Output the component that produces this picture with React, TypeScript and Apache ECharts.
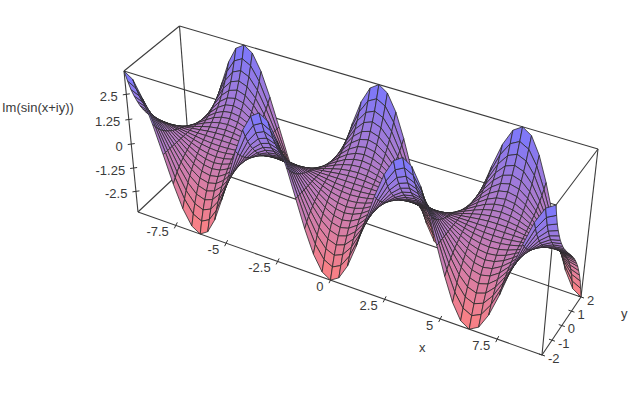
import React, { useEffect, useRef } from "react";
import * as echarts from "echarts";

const xValues = [-9.42,-9.03,-8.64,-8.25,-7.85,-7.46,-7.07,-6.68,-6.28,-5.89,-5.5,-5.11,-4.71,-4.32,-3.93,-3.53,-3.14,-2.75,-2.36,-1.96,-1.57,-1.18,-0.79,-0.39,0,0.39,0.79,1.18,1.57,1.96,2.36,2.75,3.14,3.53,3.93,4.32,4.71,5.11,5.5,5.89,6.28,6.68,7.07,7.46,7.85,8.25,8.64,9.03,9.42];
const yValues = [-2,-1.83,-1.67,-1.5,-1.33,-1.17,-1,-0.83,-0.67,-0.5,-0.33,-0.17,0,0.17,0.33,0.5,0.67,0.83,1,1.17,1.33,1.5,1.67,1.83,2];
const zRows = [
[3.63,3.35,2.56,1.39,0,-1.39,-2.56,-3.35,-3.63,-3.35,-2.56,-1.39,0,1.39,2.56,3.35,3.63,3.35,2.56,1.39,0,-1.39,-2.56,-3.35,-3.63,-3.35,-2.56,-1.39,0,1.39,2.56,3.35,3.63,3.35,2.56,1.39,0,-1.39,-2.56,-3.35,-3.63,-3.35,-2.56,-1.39,0,1.39,2.56,3.35,3.63],
[3.05,2.82,2.16,1.17,0,-1.17,-2.16,-2.82,-3.05,-2.82,-2.16,-1.17,0,1.17,2.16,2.82,3.05,2.82,2.16,1.17,0,-1.17,-2.16,-2.82,-3.05,-2.82,-2.16,-1.17,0,1.17,2.16,2.82,3.05,2.82,2.16,1.17,0,-1.17,-2.16,-2.82,-3.05,-2.82,-2.16,-1.17,0,1.17,2.16,2.82,3.05],
[2.55,2.36,1.81,0.98,0,-0.98,-1.81,-2.36,-2.55,-2.36,-1.81,-0.98,0,0.98,1.81,2.36,2.55,2.36,1.81,0.98,0,-0.98,-1.81,-2.36,-2.55,-2.36,-1.81,-0.98,0,0.98,1.81,2.36,2.55,2.36,1.81,0.98,0,-0.98,-1.81,-2.36,-2.55,-2.36,-1.81,-0.98,0,0.98,1.81,2.36,2.55],
[2.13,1.97,1.51,0.82,0,-0.82,-1.51,-1.97,-2.13,-1.97,-1.51,-0.82,0,0.82,1.51,1.97,2.13,1.97,1.51,0.82,0,-0.82,-1.51,-1.97,-2.13,-1.97,-1.51,-0.82,0,0.82,1.51,1.97,2.13,1.97,1.51,0.82,0,-0.82,-1.51,-1.97,-2.13,-1.97,-1.51,-0.82,0,0.82,1.51,1.97,2.13],
[1.77,1.63,1.25,0.68,0,-0.68,-1.25,-1.63,-1.77,-1.63,-1.25,-0.68,0,0.68,1.25,1.63,1.77,1.63,1.25,0.68,0,-0.68,-1.25,-1.63,-1.77,-1.63,-1.25,-0.68,0,0.68,1.25,1.63,1.77,1.63,1.25,0.68,0,-0.68,-1.25,-1.63,-1.77,-1.63,-1.25,-0.68,0,0.68,1.25,1.63,1.77],
[1.45,1.34,1.03,0.56,0,-0.56,-1.03,-1.34,-1.45,-1.34,-1.03,-0.56,0,0.56,1.03,1.34,1.45,1.34,1.03,0.56,0,-0.56,-1.03,-1.34,-1.45,-1.34,-1.03,-0.56,0,0.56,1.03,1.34,1.45,1.34,1.03,0.56,0,-0.56,-1.03,-1.34,-1.45,-1.34,-1.03,-0.56,0,0.56,1.03,1.34,1.45],
[1.18,1.09,0.83,0.45,0,-0.45,-0.83,-1.09,-1.18,-1.09,-0.83,-0.45,0,0.45,0.83,1.09,1.18,1.09,0.83,0.45,0,-0.45,-0.83,-1.09,-1.18,-1.09,-0.83,-0.45,0,0.45,0.83,1.09,1.18,1.09,0.83,0.45,0,-0.45,-0.83,-1.09,-1.18,-1.09,-0.83,-0.45,0,0.45,0.83,1.09,1.18],
[0.93,0.86,0.66,0.36,0,-0.36,-0.66,-0.86,-0.93,-0.86,-0.66,-0.36,0,0.36,0.66,0.86,0.93,0.86,0.66,0.36,0,-0.36,-0.66,-0.86,-0.93,-0.86,-0.66,-0.36,0,0.36,0.66,0.86,0.93,0.86,0.66,0.36,0,-0.36,-0.66,-0.86,-0.93,-0.86,-0.66,-0.36,0,0.36,0.66,0.86,0.93],
[0.72,0.66,0.51,0.27,0,-0.27,-0.51,-0.66,-0.72,-0.66,-0.51,-0.27,0,0.27,0.51,0.66,0.72,0.66,0.51,0.27,0,-0.27,-0.51,-0.66,-0.72,-0.66,-0.51,-0.27,0,0.27,0.51,0.66,0.72,0.66,0.51,0.27,0,-0.27,-0.51,-0.66,-0.72,-0.66,-0.51,-0.27,0,0.27,0.51,0.66,0.72],
[0.52,0.48,0.37,0.2,0,-0.2,-0.37,-0.48,-0.52,-0.48,-0.37,-0.2,0,0.2,0.37,0.48,0.52,0.48,0.37,0.2,0,-0.2,-0.37,-0.48,-0.52,-0.48,-0.37,-0.2,0,0.2,0.37,0.48,0.52,0.48,0.37,0.2,0,-0.2,-0.37,-0.48,-0.52,-0.48,-0.37,-0.2,0,0.2,0.37,0.48,0.52],
[0.34,0.31,0.24,0.13,0,-0.13,-0.24,-0.31,-0.34,-0.31,-0.24,-0.13,0,0.13,0.24,0.31,0.34,0.31,0.24,0.13,0,-0.13,-0.24,-0.31,-0.34,-0.31,-0.24,-0.13,0,0.13,0.24,0.31,0.34,0.31,0.24,0.13,0,-0.13,-0.24,-0.31,-0.34,-0.31,-0.24,-0.13,0,0.13,0.24,0.31,0.34],
[0.17,0.16,0.12,0.06,0,-0.06,-0.12,-0.16,-0.17,-0.16,-0.12,-0.06,0,0.06,0.12,0.16,0.17,0.16,0.12,0.06,0,-0.06,-0.12,-0.16,-0.17,-0.16,-0.12,-0.06,0,0.06,0.12,0.16,0.17,0.16,0.12,0.06,0,-0.06,-0.12,-0.16,-0.17,-0.16,-0.12,-0.06,0,0.06,0.12,0.16,0.17],
[0,0,0,0,0,0,0,0,0,0,0,0,0,0,0,0,0,0,0,0,0,0,0,0,0,0,0,0,0,0,0,0,0,0,0,0,0,0,0,0,0,0,0,0,0,0,0,0,0],
[-0.17,-0.16,-0.12,-0.06,0,0.06,0.12,0.16,0.17,0.16,0.12,0.06,0,-0.06,-0.12,-0.16,-0.17,-0.16,-0.12,-0.06,0,0.06,0.12,0.16,0.17,0.16,0.12,0.06,0,-0.06,-0.12,-0.16,-0.17,-0.16,-0.12,-0.06,0,0.06,0.12,0.16,0.17,0.16,0.12,0.06,0,-0.06,-0.12,-0.16,-0.17],
[-0.34,-0.31,-0.24,-0.13,0,0.13,0.24,0.31,0.34,0.31,0.24,0.13,0,-0.13,-0.24,-0.31,-0.34,-0.31,-0.24,-0.13,0,0.13,0.24,0.31,0.34,0.31,0.24,0.13,0,-0.13,-0.24,-0.31,-0.34,-0.31,-0.24,-0.13,0,0.13,0.24,0.31,0.34,0.31,0.24,0.13,0,-0.13,-0.24,-0.31,-0.34],
[-0.52,-0.48,-0.37,-0.2,0,0.2,0.37,0.48,0.52,0.48,0.37,0.2,0,-0.2,-0.37,-0.48,-0.52,-0.48,-0.37,-0.2,0,0.2,0.37,0.48,0.52,0.48,0.37,0.2,0,-0.2,-0.37,-0.48,-0.52,-0.48,-0.37,-0.2,0,0.2,0.37,0.48,0.52,0.48,0.37,0.2,0,-0.2,-0.37,-0.48,-0.52],
[-0.72,-0.66,-0.51,-0.27,0,0.27,0.51,0.66,0.72,0.66,0.51,0.27,0,-0.27,-0.51,-0.66,-0.72,-0.66,-0.51,-0.27,0,0.27,0.51,0.66,0.72,0.66,0.51,0.27,0,-0.27,-0.51,-0.66,-0.72,-0.66,-0.51,-0.27,0,0.27,0.51,0.66,0.72,0.66,0.51,0.27,0,-0.27,-0.51,-0.66,-0.72],
[-0.93,-0.86,-0.66,-0.36,0,0.36,0.66,0.86,0.93,0.86,0.66,0.36,0,-0.36,-0.66,-0.86,-0.93,-0.86,-0.66,-0.36,0,0.36,0.66,0.86,0.93,0.86,0.66,0.36,0,-0.36,-0.66,-0.86,-0.93,-0.86,-0.66,-0.36,0,0.36,0.66,0.86,0.93,0.86,0.66,0.36,0,-0.36,-0.66,-0.86,-0.93],
[-1.18,-1.09,-0.83,-0.45,0,0.45,0.83,1.09,1.18,1.09,0.83,0.45,0,-0.45,-0.83,-1.09,-1.18,-1.09,-0.83,-0.45,0,0.45,0.83,1.09,1.18,1.09,0.83,0.45,0,-0.45,-0.83,-1.09,-1.18,-1.09,-0.83,-0.45,0,0.45,0.83,1.09,1.18,1.09,0.83,0.45,0,-0.45,-0.83,-1.09,-1.18],
[-1.45,-1.34,-1.03,-0.56,0,0.56,1.03,1.34,1.45,1.34,1.03,0.56,0,-0.56,-1.03,-1.34,-1.45,-1.34,-1.03,-0.56,0,0.56,1.03,1.34,1.45,1.34,1.03,0.56,0,-0.56,-1.03,-1.34,-1.45,-1.34,-1.03,-0.56,0,0.56,1.03,1.34,1.45,1.34,1.03,0.56,0,-0.56,-1.03,-1.34,-1.45],
[-1.77,-1.63,-1.25,-0.68,0,0.68,1.25,1.63,1.77,1.63,1.25,0.68,0,-0.68,-1.25,-1.63,-1.77,-1.63,-1.25,-0.68,0,0.68,1.25,1.63,1.77,1.63,1.25,0.68,0,-0.68,-1.25,-1.63,-1.77,-1.63,-1.25,-0.68,0,0.68,1.25,1.63,1.77,1.63,1.25,0.68,0,-0.68,-1.25,-1.63,-1.77],
[-2.13,-1.97,-1.51,-0.82,0,0.82,1.51,1.97,2.13,1.97,1.51,0.82,0,-0.82,-1.51,-1.97,-2.13,-1.97,-1.51,-0.82,0,0.82,1.51,1.97,2.13,1.97,1.51,0.82,0,-0.82,-1.51,-1.97,-2.13,-1.97,-1.51,-0.82,0,0.82,1.51,1.97,2.13,1.97,1.51,0.82,0,-0.82,-1.51,-1.97,-2.13],
[-2.55,-2.36,-1.81,-0.98,0,0.98,1.81,2.36,2.55,2.36,1.81,0.98,0,-0.98,-1.81,-2.36,-2.55,-2.36,-1.81,-0.98,0,0.98,1.81,2.36,2.55,2.36,1.81,0.98,0,-0.98,-1.81,-2.36,-2.55,-2.36,-1.81,-0.98,0,0.98,1.81,2.36,2.55,2.36,1.81,0.98,0,-0.98,-1.81,-2.36,-2.55],
[-3.05,-2.82,-2.16,-1.17,0,1.17,2.16,2.82,3.05,2.82,2.16,1.17,0,-1.17,-2.16,-2.82,-3.05,-2.82,-2.16,-1.17,0,1.17,2.16,2.82,3.05,2.82,2.16,1.17,0,-1.17,-2.16,-2.82,-3.05,-2.82,-2.16,-1.17,0,1.17,2.16,2.82,3.05,2.82,2.16,1.17,0,-1.17,-2.16,-2.82,-3.05],
[-3.63,-3.35,-2.56,-1.39,0,1.39,2.56,3.35,3.63,3.35,2.56,1.39,0,-1.39,-2.56,-3.35,-3.63,-3.35,-2.56,-1.39,0,1.39,2.56,3.35,3.63,3.35,2.56,1.39,0,-1.39,-2.56,-3.35,-3.63,-3.35,-2.56,-1.39,0,1.39,2.56,3.35,3.63,3.35,2.56,1.39,0,-1.39,-2.56,-3.35,-3.63],
];
const xTicks = [-7.5, -5, -2.5, 0, 2.5, 5, 7.5];
const yTicks = [-2, -1, 0, 1, 2];
const zTicks = [-2.5, -1.25, 0, 1.25, 2.5];
const xTitle = "x";
const yTitle = "y";
const zTitle = "Im(sin(x+iy))";

const xMin = -9.42, xMax = 9.42, yMin = -2, yMax = 2, zMin = -3.63, zMax = 3.63;
const FONT = "Liberation Sans";
const TEXT = "#3a3a3a";

// Camera: where the box corners land on the picture, with per-axis perspective foreshortening.
const corners: Record<string, number[]> = {
  "000": [138, 212], "100": [542, 355], "110": [581, 297], "010": [190, 163],
  "001": [124, 71], "101": [556, 205], "111": [598, 149], "011": [179.5, 26],
};
const persp = { x: 0.91, y: 1.03, z: 0.93 };
const remap = (t: number, a: number) => (a * t) / (1 + t * (a - 1));

function project(x: number, y: number, z: number) {
  const u = remap((x - xMin) / (xMax - xMin), persp.x);
  const v = remap((y - yMin) / (yMax - yMin), persp.y);
  const w = remap((z - zMin) / (zMax - zMin), persp.z);
  let px = 0, py = 0;
  for (const key of Object.keys(corners)) {
    const f = (key[0] === "1" ? u : 1 - u) * (key[1] === "1" ? v : 1 - v) * (key[2] === "1" ? w : 1 - w);
    px += f * corners[key][0];
    py += f * corners[key][1];
  }
  return [px, py];
}

function colorOf(z: number) {
  const t = (z - zMin) / (zMax - zMin);
  const r = Math.round(255 + (120 - 255) * t);
  const g = Math.round(128 + (120 - 128) * t);
  const b = Math.round(128 + (255 - 128) * t);
  return `rgb(${r},${g},${b})`;
}

const boxEdges = [
  [xMin, yMin, zMin, xMax, yMin, zMin], [xMax, yMin, zMin, xMax, yMax, zMin],
  [xMax, yMax, zMin, xMin, yMax, zMin], [xMin, yMax, zMin, xMin, yMin, zMin],
  [xMin, yMin, zMax, xMax, yMin, zMax], [xMax, yMin, zMax, xMax, yMax, zMax],
  [xMax, yMax, zMax, xMin, yMax, zMax], [xMin, yMax, zMax, xMin, yMin, zMax],
  [xMin, yMin, zMin, xMin, yMin, zMax], [xMax, yMin, zMin, xMax, yMin, zMax],
  [xMax, yMax, zMin, xMax, yMax, zMax], [xMin, yMax, zMin, xMin, yMax, zMax],
];

function buildCells() {
  const cells: number[][] = [];
  for (let i = yValues.length - 2; i >= 0; i--) {
    for (let j = 0; j < xValues.length - 1; j++) cells.push([j, i]);
  }
  return cells;
}

function text(api: any, p: number[], content: string, align: string, dx: number, dy: number) {
  const c = api.coord(p);
  return {
    type: "text",
    style: { text: content, x: c[0] + dx, y: c[1] + dy, fill: TEXT, font: `13px "${FONT}"`, textAlign: align, textVerticalAlign: "middle" },
  };
}

function tick(api: any, p: number[], a: number[], b: number[]) {
  const c = api.coord(p);
  return {
    type: "line",
    shape: { x1: c[0] + a[0], y1: c[1] + a[1], x2: c[0] + b[0], y2: c[1] + b[1] },
    style: { stroke: "#333", lineWidth: 1 },
  };
}

export default function App() {
  const ref = useRef<HTMLDivElement>(null);
  useEffect(() => {
    const chart = echarts.init(ref.current!, undefined, { renderer: "svg" });
    chart.setOption({
      animation: false,
      backgroundColor: "#fff",
      tooltip: { show: false },
      grid: { left: 0, right: 0, top: 0, bottom: 0 },
      xAxis: { type: "value", min: 0, max: 640, show: false },
      yAxis: { type: "value", min: 0, max: 399, inverse: true, show: false },
      series: [
        {
          type: "custom", silent: true, clip: false, data: boxEdges, z: 1,
          renderItem: (_: any, api: any) => {
            const a = api.coord(project(api.value(0), api.value(1), api.value(2)));
            const b = api.coord(project(api.value(3), api.value(4), api.value(5)));
            return { type: "line", shape: { x1: a[0], y1: a[1], x2: b[0], y2: b[1] }, style: { stroke: "#3c3c3c", lineWidth: 1.1 } };
          },
        },
        {
          type: "custom", silent: true, clip: false, data: xTicks.map((t) => [t]), z: 2,
          renderItem: (_: any, api: any) => {
            const v = api.value(0);
            const p = project(v, yMin, zMin);
            return { type: "group", children: [tick(api, p, [-1.5, 3], [1.5, -3]), text(api, p, String(v), "right", -7, 6.5)] };
          },
        },
        {
          type: "custom", silent: true, clip: false, data: yTicks.map((t) => [t]), z: 2,
          renderItem: (_: any, api: any) => {
            const v = api.value(0);
            const p = project(xMax, v, zMin);
            return { type: "group", children: [tick(api, p, [-3, -1], [3, 1]), text(api, p, String(v), "left", 6, 3)] };
          },
        },
        {
          type: "custom", silent: true, clip: false, data: zTicks.map((t) => [t]), z: 2,
          renderItem: (_: any, api: any) => {
            const v = api.value(0);
            const p = project(xMin, yMin, v);
            return { type: "group", children: [tick(api, p, [-3.5, 0.5], [3.5, -0.5]), text(api, p, String(v), "right", -8.5, 2)] };
          },
        },
        {
          type: "custom", silent: true, clip: false, data: buildCells(), z: 3,
          renderItem: (_: any, api: any) => {
            const j = api.value(0), i = api.value(1);
            const idx = [[j, i], [j + 1, i], [j + 1, i + 1], [j, i + 1]];
            let sum = 0;
            const points = idx.map(([c, r]) => {
              const z = zRows[r][c];
              sum += z;
              return api.coord(project(xValues[c], yValues[r], z));
            });
            return { type: "polygon", shape: { points }, style: { fill: colorOf(sum / 4), stroke: "#2a2a2a", lineWidth: 0.8, lineJoin: "round" } };
          },
        },
      ],
      graphic: [
        { type: "text", left: 2, top: 101, style: { text: zTitle, fill: TEXT, font: `13px "${FONT}"` } },
        { type: "text", left: 419, top: 341, style: { text: xTitle, fill: TEXT, font: `13px "${FONT}"` } },
        { type: "text", left: 621, top: 307, style: { text: yTitle, fill: TEXT, font: `13px "${FONT}"` } },
      ],
    });
    return () => chart.dispose();
  }, []);
  return <div ref={ref} style={{ position: "absolute", left: 0, top: 0, width: 640, height: 399 }} />;
}
